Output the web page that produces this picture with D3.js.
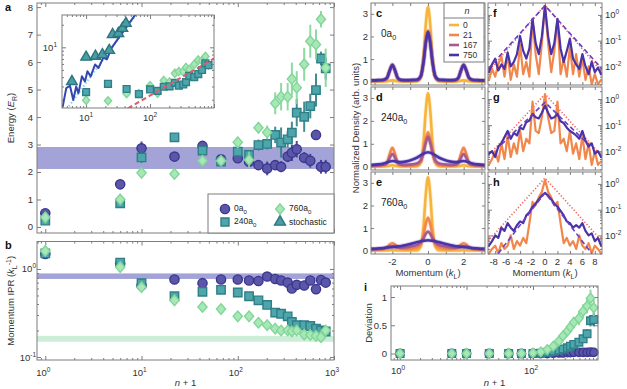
<!DOCTYPE html>
<html>
<head>
<meta charset="utf-8">
<script src="https://cdn.jsdelivr.net/npm/d3@7/dist/d3.min.js"></script>
<style>
  body { margin: 0; background: #fff; }
  svg { font-family: "Liberation Sans", Arial, sans-serif; }
  .tk { font-size: 9.5px; fill: #333; }
  .lab { font-size: 9.5px; fill: #333; }
  .pl { font-size: 11px; font-weight: bold; fill: #111; }
</style>
</head>
<body>
<svg id="fig" width="627" height="389"></svg>
<script>
// ---------- panels a, b, i : values against n + 1
const steps = [1, 6, 10, 22, 43, 67, 100, 131, 164, 202, 245, 282, 330, 365, 410, 490, 567, 650, 733, 820];

const energy0 = [0.50, 1.55, 2.86, 2.56, 2.95, 2.46, 2.50, 2.37, 2.25, 2.13, 2.25, 2.19, 2.56, 2.70, 2.83, 2.52, 2.41, 3.35, 2.19, 2.19];
const energy0Err = [0.05, 0.15, 0.25, 0.1, 0.1, 0.1, 0.1, 0.1, 0.15, 0.25, 0.15, 0.2, 0.2, 0.3, 0.3, 0.2, 0.25, 0.15, 0.25, 0.25];
const energy240 = [0.23, 0.86, 2.53, 3.26, 2.78, 2.38, 2.74, 2.62, 2.98, 3.02, 3.35, 3.07, 3.19, 3.43, 4.16, 4.01, 4.40, 4.98, 6.13, 5.77];
const energy240Err = [0.05, 0.1, 0.2, 0.15, 0.1, 0.1, 0.15, 0.15, 0.2, 0.2, 0.3, 0.55, 0.3, 0.4, 0.5, 0.55, 0.45, 0.6, 0.25, 0.4];
const energy760 = [0.35, 1.00, 1.97, 1.93, 2.41, 2.41, 3.08, 2.44, 3.61, 3.44, 4.50, 4.74, 4.74, 5.38, 5.07, 5.92, 6.76, 6.64, 7.56, 5.79];
const energy760Err = [0.05, 0.1, 0.15, 0.1, 0.1, 0.15, 0.2, 0.3, 0.2, 0.25, 0.4, 0.5, 0.5, 0.6, 0.6, 0.6, 0.6, 0.55, 0.3, 0.7];
const energyBand = [2.11, 2.91];

const ipr0 = [1.48, 1.15, 0.65, 0.76, 0.69, 0.76, 0.76, 0.74, 0.73, 0.82, 0.77, 0.74, 0.70, 0.60, 0.66, 0.65, 0.74, 0.59, 0.75, 0.70];
const ipr240 = [1.5, 1.18, 0.69, 0.49, 0.55, 0.58, 0.54, 0.49, 0.44, 0.39, 0.32, 0.31, 0.29, 0.25, 0.23, 0.23, 0.225, 0.21, 0.20, 0.195];
const ipr760 = [1.6, 1.05, 0.62, 0.44, 0.37, 0.35, 0.29, 0.29, 0.245, 0.23, 0.21, 0.20, 0.20, 0.195, 0.20, 0.18, 0.178, 0.174, 0.168, 0.20];
const iprBand0 = [0.77, 0.89];
const iprBand760 = [0.149, 0.174];

const dev0 = [0, 0, 0, 0, 0, 0, 0, 0, 0, 0.005, 0.01, 0.01, 0.015, 0.015, 0.02, 0.02, 0.02, 0.02, 0.025, 0.02];
const dev240 = [0, 0, 0, 0, 0, 0, 0, 0.005, 0.02, 0.04, 0.06, 0.08, 0.1, 0.13, 0.16, 0.2, 0.26, 0.35, 0.58, 0.6];
const dev240Err = [0, 0, 0, 0, 0, 0, 0, 0.01, 0.01, 0.02, 0.02, 0.03, 0.03, 0.04, 0.04, 0.05, 0.06, 0.08, 0.1, 0.12];
const dev760 = [0, 0, 0, 0, 0, 0, 0.01, 0.03, 0.07, 0.13, 0.22, 0.31, 0.4, 0.47, 0.55, 0.62, 0.75, 0.84, 0.98, 0.81];
const dev760Err = [0, 0, 0, 0, 0, 0, 0.01, 0.02, 0.03, 0.04, 0.05, 0.06, 0.08, 0.1, 0.1, 0.12, 0.12, 0.13, 0.15, 0.15];

// inset of panel a (log-log)
const stochN = [6, 10, 14, 18, 23, 26, 32, 37, 42];
const stochE = [3.5, 7.4, 7.6, 8.0, 9.1, 14.8, 15.3, 17.9, 20.9];
const simN = [4.3, 4.9, 5.6, 6.3, 7.0, 7.6, 8.6, 9.6, 10.5, 11.8, 13.8, 15.6, 18.6, 21.1, 25.2, 34, 46, 60];
const simE = [1.61, 2.85, 3.07, 1.98, 3.0, 2.45, 4.1, 3.5, 4.8, 4.1, 5.9, 5.3, 7.3, 6.9, 9.9, 14.2, 20.4, 27.9];
const diffN = [5, 62];
const diffE = [1.5, 28];
const fitN = [45, 1000];
const fitE = [1.53, 7.1];

// ---------- panels c, d, e : density vs momentum (linear)
const kGrid = [-3.2, -2.8, -2.5, -2.3, -2.15, -2.0, -1.85, -1.7, -1.5, -1.2, -0.9, -0.6, -0.4, -0.25, -0.12, 0,
  0.12, 0.25, 0.4, 0.6, 0.9, 1.2, 1.5, 1.7, 1.85, 2.0, 2.15, 2.3, 2.5, 2.8, 3.2];
const nLabels = ['0', '21', '167', '750'];

const c0 = [0.01, 0.01, 0.01, 0.02, 0.04, 0.06, 0.04, 0.02, 0.01, 0.01, 0.01, 0.02, 0.21, 1.12, 2.57, 3.3, 2.57, 1.12, 0.21, 0.02, 0.01, 0.01, 0.01, 0.02, 0.04, 0.06, 0.04, 0.02, 0.01, 0.01, 0.01];
const c21 = [0.04, 0.04, 0.06, 0.15, 0.5, 0.76, 0.5, 0.15, 0.05, 0.04, 0.04, 0.06, 0.24, 0.9, 1.8, 2.25, 1.8, 0.9, 0.24, 0.06, 0.04, 0.04, 0.05, 0.15, 0.5, 0.76, 0.5, 0.15, 0.06, 0.04, 0.04];
const c167 = [0.05, 0.05, 0.07, 0.16, 0.48, 0.73, 0.48, 0.16, 0.06, 0.05, 0.05, 0.07, 0.25, 0.88, 1.76, 2.2, 1.76, 0.88, 0.25, 0.07, 0.05, 0.05, 0.06, 0.16, 0.48, 0.73, 0.48, 0.16, 0.07, 0.05, 0.05];
const c750 = [0.06, 0.07, 0.09, 0.18, 0.5, 0.74, 0.5, 0.17, 0.08, 0.07, 0.08, 0.1, 0.26, 0.88, 1.75, 2.2, 1.75, 0.88, 0.26, 0.1, 0.08, 0.07, 0.08, 0.17, 0.5, 0.74, 0.5, 0.18, 0.09, 0.07, 0.06];

const d0 = [0.01, 0.01, 0.01, 0.02, 0.04, 0.06, 0.04, 0.02, 0.01, 0.01, 0.01, 0.02, 0.2, 1.09, 2.5, 3.2, 2.5, 1.09, 0.2, 0.02, 0.01, 0.01, 0.01, 0.02, 0.04, 0.06, 0.04, 0.02, 0.01, 0.01, 0.01];
const d21 = [0.03, 0.04, 0.06, 0.18, 0.55, 0.82, 0.55, 0.18, 0.06, 0.05, 0.05, 0.08, 0.2, 0.62, 1.2, 1.5, 1.2, 0.62, 0.2, 0.08, 0.05, 0.05, 0.06, 0.18, 0.55, 0.82, 0.55, 0.18, 0.06, 0.04, 0.03];
const d167 = [0.05, 0.06, 0.08, 0.15, 0.38, 0.55, 0.38, 0.15, 0.09, 0.08, 0.1, 0.15, 0.3, 0.65, 1.05, 1.3, 1.05, 0.65, 0.3, 0.15, 0.1, 0.08, 0.09, 0.15, 0.38, 0.55, 0.38, 0.15, 0.08, 0.06, 0.05];
const d750 = [0.07, 0.1, 0.14, 0.19, 0.23, 0.25, 0.23, 0.21, 0.2, 0.23, 0.3, 0.4, 0.5, 0.57, 0.61, 0.63, 0.61, 0.57, 0.5, 0.4, 0.3, 0.23, 0.2, 0.21, 0.23, 0.25, 0.23, 0.19, 0.14, 0.1, 0.07];

const e0 = [0.01, 0.01, 0.01, 0.01, 0.02, 0.03, 0.02, 0.01, 0.01, 0.01, 0.01, 0.02, 0.2, 1.1, 2.53, 3.25, 2.53, 1.1, 0.2, 0.02, 0.01, 0.01, 0.01, 0.01, 0.02, 0.03, 0.02, 0.01, 0.01, 0.01, 0.01];
const e21 = [0.05, 0.06, 0.08, 0.15, 0.27, 0.33, 0.27, 0.15, 0.09, 0.08, 0.09, 0.14, 0.3, 0.7, 1.2, 1.45, 1.2, 0.7, 0.3, 0.14, 0.09, 0.08, 0.09, 0.15, 0.27, 0.33, 0.27, 0.15, 0.08, 0.06, 0.05];
const e167 = [0.07, 0.08, 0.1, 0.14, 0.18, 0.2, 0.18, 0.14, 0.13, 0.15, 0.2, 0.26, 0.38, 0.55, 0.75, 0.85, 0.75, 0.55, 0.38, 0.26, 0.2, 0.15, 0.13, 0.14, 0.18, 0.2, 0.18, 0.14, 0.1, 0.08, 0.07];
const e750 = [0.08, 0.1, 0.12, 0.14, 0.15, 0.16, 0.17, 0.19, 0.21, 0.26, 0.32, 0.38, 0.42, 0.44, 0.45, 0.46, 0.45, 0.44, 0.42, 0.38, 0.32, 0.26, 0.21, 0.19, 0.17, 0.16, 0.15, 0.14, 0.12, 0.1, 0.08];

// ---------- panels f, g, h : same densities on a log scale
const kLog = [-9, -8.5, -8, -7.5, -7, -6.5, -6, -5.5, -5, -4.5, -4, -3.5, -3, -2.5, -2, -1.5, -1, -0.5, 0,
  0.5, 1, 1.5, 2, 2.5, 3, 3.5, 4, 4.5, 5, 5.5, 6, 6.5, 7, 7.5, 8, 8.5, 9];

const f21 = [0.003, 0.008, 0.004, 0.012, 0.025, 0.004, 0.03, 0.003, 0.012, 0.004, 0.07, 0.005, 0.015, 0.004, 0.65, 0.03, 0.005, 0.08, 2.3, 0.08, 0.006, 0.04, 0.65, 0.005, 0.02, 0.004, 0.06, 0.005, 0.03, 0.004, 0.02, 0.003, 0.01, 0.002, 0.005, 0.002, 0.003];
const f750 = [0.006, 0.012, 0.02, 0.007, 0.012, 0.008, 0.035, 0.01, 0.015, 0.03, 0.15, 0.04, 0.02, 0.05, 0.7, 0.08, 0.03, 0.15, 2.2, 0.15, 0.03, 0.08, 0.7, 0.05, 0.015, 0.04, 0.12, 0.02, 0.012, 0.008, 0.03, 0.01, 0.005, 0.015, 0.006, 0.009, 0.005];
const g21 = [0.003, 0.005, 0.01, 0.004, 0.02, 0.005, 0.04, 0.006, 0.02, 0.008, 0.06, 0.01, 0.03, 0.02, 0.8, 0.06, 0.05, 0.2, 1.5, 0.2, 0.05, 0.06, 0.8, 0.02, 0.03, 0.01, 0.06, 0.008, 0.02, 0.005, 0.04, 0.005, 0.02, 0.003, 0.01, 0.003, 0.004];
const g750 = [0.008, 0.01, 0.006, 0.015, 0.02, 0.035, 0.06, 0.03, 0.05, 0.04, 0.08, 0.07, 0.13, 0.15, 0.27, 0.2, 0.18, 0.3, 0.56, 0.3, 0.18, 0.2, 0.27, 0.14, 0.12, 0.08, 0.06, 0.05, 0.04, 0.03, 0.06, 0.025, 0.015, 0.02, 0.008, 0.01, 0.006];
const h21 = [0.002, 0.003, 0.004, 0.002, 0.005, 0.003, 0.004, 0.01, 0.003, 0.006, 0.004, 0.008, 0.005, 0.03, 0.2, 0.15, 0.3, 0.5, 1.45, 0.5, 0.3, 0.15, 0.2, 0.03, 0.005, 0.008, 0.004, 0.006, 0.003, 0.01, 0.004, 0.003, 0.005, 0.002, 0.004, 0.003, 0.002];
const h750 = [0.004, 0.006, 0.01, 0.008, 0.02, 0.015, 0.03, 0.02, 0.015, 0.025, 0.035, 0.03, 0.06, 0.08, 0.13, 0.17, 0.25, 0.35, 0.45, 0.35, 0.25, 0.17, 0.13, 0.09, 0.06, 0.035, 0.03, 0.02, 0.025, 0.02, 0.03, 0.015, 0.01, 0.012, 0.006, 0.008, 0.004];

// exponential fits (two-sided), red dotted for n = 21, purple dashed for n = 750
const fitRedK = [-9.15, 0, 9.15];
const fitRedF = [0.006, 2.4, 0.006];
const fitRedG = [0.0065, 1.55, 0.0065];
const fitRedH = [0.006, 1.7, 0.006];
const fitBlueKF = [-9.15, 0, 9.15];
const fitBlueF = [0.008, 2.3, 0.008];
const fitBlueKG = [-7, 0, 7];
const fitBlueG = [0.018, 0.75, 0.018];
const fitBlueKH = [-7.5, 0, 7.5];
const fitBlueH = [0.002, 0.45, 0.002];

// ---------- styling
const AX = '#7d7d7d';
const BAND = '#a3a3d8';
const BAND_GREEN = '#cdeed6';
const C_CIRCLE = { fill: '#5b57a8', stroke: '#3b3790' };
const C_SQUARE = { fill: '#4ea6ad', stroke: '#2f7f86' };
const C_DIAMOND = { fill: '#a8e8b6', stroke: '#82d69a' };
const C_TRI = { fill: '#4a9da5', stroke: '#2c757d' };
const nColors = ['#f8b43a', '#f2874c', '#a65b8e', '#4a33a8'];

const svg = d3.select('#fig');

// ---------- helpers
let clipCount = 0;
function clip(x0, y0, x1, y1) {
  const id = 'clip' + (clipCount++);
  svg.append('clipPath').attr('id', id).append('rect')
    .attr('x', x0).attr('y', y0).attr('width', x1 - x0).attr('height', y1 - y0);
  return `url(#${id})`;
}

function frame(x0, y0, x1, y1) {
  svg.append('rect')
    .attr('x', x0).attr('y', y0)
    .attr('width', x1 - x0).attr('height', y1 - y0)
    .attr('fill', 'none').attr('stroke', AX).attr('stroke-width', 1);
}

const makers = { bottom: d3.axisBottom, top: d3.axisTop, left: d3.axisLeft, right: d3.axisRight };

// inward tick marks only, labels are drawn separately
function ticks(scale, side, pos, vals, len) {
  const horiz = side === 'bottom' || side === 'top';
  const g = svg.append('g')
    .attr('transform', horiz ? `translate(0,${pos})` : `translate(${pos},0)`)
    .call(makers[side](scale).tickValues(vals).tickSize(-len).tickFormat(''));
  g.select('.domain').remove();
  g.selectAll('line').attr('stroke', AX);
}

function logVals(scale) {
  const [a, b] = scale.domain();
  const major = [], minor = [];
  for (let e = Math.floor(Math.log10(a)); e <= Math.ceil(Math.log10(b)); e++) {
    for (let m = 1; m <= 9; m++) {
      const v = m * Math.pow(10, e);
      if (v < a || v > b) continue;
      (m === 1 ? major : minor).push(v);
    }
  }
  return { major, minor };
}

function logTicks(scale, side, pos) {
  const { major, minor } = logVals(scale);
  ticks(scale, side, pos, major, 4);
  ticks(scale, side, pos, minor, 2);
}

function text(x, y, str, anchor, cls) {
  return svg.append('text').attr('class', cls || 'tk')
    .attr('x', x).attr('y', y).attr('text-anchor', anchor || 'middle').text(str);
}

function pow10(x, y, exp, anchor) {
  const t = text(x, y, '10', anchor);
  t.append('tspan').attr('dy', -4).style('font-size', '6.5px').text(exp);
}

// "240a0" style label with subscript
function subLabel(x, y, base, sub, size) {
  const t = svg.append('text').attr('x', x).attr('y', y)
    .style('font-size', size + 'px').attr('fill', '#222').text(base);
  t.append('tspan').attr('dy', 2.5).style('font-size', (size * 0.72) + 'px').text(sub);
  return t;
}

const diamond = s => `M0,${-s * 1.15}L${s},0L0,${s * 1.15}L${-s},0Z`;

function symbolPath(kind, size) {
  if (kind === 'diamond') return diamond(size);
  if (kind === 'circle') return d3.symbol().type(d3.symbolCircle).size(Math.PI * size * size)();
  if (kind === 'square') return d3.symbol().type(d3.symbolSquare).size(4 * size * size)();
  return d3.symbol().type(d3.symbolTriangle).size(size * size * 1.9)();
}

function points(xs, ys, x, y, kind, size, col, errs) {
  const g = svg.append('g');
  if (errs) {
    xs.forEach((v, i) => {
      if (!errs[i]) return;
      g.append('line')
        .attr('x1', x(v)).attr('x2', x(v))
        .attr('y1', y(ys[i] - errs[i])).attr('y2', y(ys[i] + errs[i]))
        .attr('stroke', col.stroke).attr('stroke-width', 2).attr('opacity', 0.9);
    });
  }
  const p = symbolPath(kind, size);
  xs.forEach((v, i) => {
    g.append('path')
      .attr('d', p)
      .attr('transform', `translate(${x(v)},${y(ys[i])})`)
      .attr('fill', col.fill).attr('stroke', col.stroke).attr('stroke-width', 1.4);
  });
  return g;
}

function curve(xs, ys, x, y, color, width, clipUrl, dash, smooth, halo) {
  const gen = d3.line().x((d, i) => x(xs[i])).y(d => y(d));
  if (smooth) gen.curve(d3.curveMonotoneX);
  if (halo) {
    svg.append('path').datum(ys).attr('d', gen)
      .attr('fill', 'none').attr('stroke', color).attr('stroke-width', width + 1.8)
      .attr('stroke-opacity', 0.22).attr('stroke-linejoin', 'round').attr('clip-path', clipUrl);
  }
  svg.append('path').datum(ys).attr('d', gen)
    .attr('fill', 'none').attr('stroke', color).attr('stroke-width', width)
    .attr('stroke-linejoin', 'round').attr('stroke-linecap', dash ? 'butt' : 'round')
    .attr('stroke-dasharray', dash || null).attr('clip-path', clipUrl);
}

// ================= panel a
const A = { x0: 37, x1: 334, y0: 3, y1: 233 };
const xA = d3.scaleLog().domain([0.82, 1000]).range([A.x0, A.x1]);
const yA = d3.scaleLinear().domain([-0.22, 8.15]).range([A.y1, A.y0]);

svg.append('rect')
  .attr('x', A.x0).attr('width', A.x1 - A.x0)
  .attr('y', yA(energyBand[1])).attr('height', yA(energyBand[0]) - yA(energyBand[1]))
  .attr('fill', BAND);

logTicks(xA, 'bottom', A.y1);
logTicks(xA, 'top', A.y0);
const eTicks = d3.range(0, 9);
ticks(yA, 'left', A.x0, eTicks, 4);
ticks(yA, 'right', A.x1, eTicks, 4);
eTicks.forEach(v => text(33, yA(v) + 3.5, v, 'end'));

points(steps, energy0, xA, yA, 'circle', 4.6, C_CIRCLE, energy0Err);
points(steps, energy240, xA, yA, 'square', 4.2, C_SQUARE, energy240Err);
points(steps, energy760, xA, yA, 'diamond', 4.6, C_DIAMOND, energy760Err);
frame(A.x0, A.y0, A.x1, A.y1);

// y label
const ea = svg.append('text').attr('class', 'lab').attr('text-anchor', 'middle')
  .attr('transform', `translate(14,${(A.y0 + A.y1) / 2}) rotate(-90)`).text('Energy (');
ea.append('tspan').style('font-style', 'italic').text('E');
ea.append('tspan').attr('dy', 2.5).style('font-size', '7px').text('R');
ea.append('tspan').attr('dy', -2.5).text(')');

// inset
const IN = { x0: 62, x1: 214, y0: 15, y1: 108 };
const xIn = d3.scaleLog().domain([4.2, 1000]).range([IN.x0, IN.x1]);
const yIn = d3.scaleLog().domain([1.55, 27]).range([IN.y1, IN.y0]);
svg.append('rect').attr('x', IN.x0).attr('y', IN.y0)
  .attr('width', IN.x1 - IN.x0).attr('height', IN.y1 - IN.y0).attr('fill', '#fff');
const inClip = clip(IN.x0, IN.y0, IN.x1, IN.y1);
logTicks(xIn, 'bottom', IN.y1);
logTicks(xIn, 'top', IN.y0);
logTicks(yIn, 'left', IN.x0);
logTicks(yIn, 'right', IN.x1);
pow10(86, 121, '1');
pow10(150, 121, '2');
pow10(57, 51, '1', 'end');

const inKeep = steps.map((s, i) => i).filter(i => steps[i] >= 8);
points(inKeep.map(i => steps[i]), inKeep.map(i => energy760[i]), xIn, yIn, 'diamond', 3.6, C_DIAMOND)
  .attr('clip-path', inClip);
points(inKeep.map(i => steps[i]), inKeep.map(i => energy240[i]), xIn, yIn, 'square', 3.4, C_SQUARE)
  .attr('clip-path', inClip);
curve(fitN, fitE, xIn, yIn, '#de5a6c', 2, inClip, '5,3');
curve(diffN, diffE, xIn, yIn, '#93d4ec', 2.2, inClip, '1.5,2');
curve(simN, simE, xIn, yIn, '#3347b0', 2, inClip);
points(stochN, stochE, xIn, yIn, 'triangle', 5, C_TRI).attr('clip-path', inClip);
frame(IN.x0, IN.y0, IN.x1, IN.y1);

// legend of panel a
svg.append('rect').attr('x', 208).attr('y', 194).attr('width', 126).attr('height', 39)
  .attr('fill', '#fff').attr('stroke', AX);
const legA = [
  { kind: 'circle', col: C_CIRCLE, base: '0a', x: 225, y: 209, size: 4.6 },
  { kind: 'square', col: C_SQUARE, base: '240a', x: 225, y: 222, size: 4 },
  { kind: 'diamond', col: C_DIAMOND, base: '760a', x: 280, y: 209, size: 4.4 },
  { kind: 'triangle', col: C_TRI, base: 'stochastic', x: 280, y: 222, size: 5.2 }
];
legA.forEach(d => {
  svg.append('path').attr('d', symbolPath(d.kind, d.size))
    .attr('transform', `translate(${d.x},${d.y})`)
    .attr('fill', d.col.fill).attr('stroke', d.col.stroke).attr('stroke-width', 1.4);
  if (d.base === 'stochastic') {
    svg.append('text').attr('x', d.x + 9).attr('y', d.y + 3).style('font-size', '8.5px').attr('fill', '#222').text(d.base);
  } else {
    subLabel(d.x + 9, d.y + 2, d.base, '0', 8.5);
  }
});

// ================= panel b
const B = { x0: 37, x1: 334, y0: 241.5, y1: 360 };
const yB = d3.scaleLog().domain([0.0925, 2.05]).range([B.y1, B.y0]);
const xB = xA.copy();

[[iprBand0, BAND], [iprBand760, BAND_GREEN]].forEach(([band, col]) => {
  svg.append('rect')
    .attr('x', B.x0).attr('width', B.x1 - B.x0)
    .attr('y', yB(band[1])).attr('height', yB(band[0]) - yB(band[1]))
    .attr('fill', col);
});
logTicks(xB, 'bottom', B.y1);
logTicks(xB, 'top', B.y0);
logTicks(yB, 'left', B.x0);
logTicks(yB, 'right', B.x1);
[1, 10, 100, 1000].forEach((v, i) => pow10(xB(v) - 2, 376, String(i)));
pow10(36, yB(1) + 3.5, '0', 'end');
pow10(36, yB(0.1) + 3.5, '-1', 'end');

points(steps, ipr0, xB, yB, 'circle', 4.6, C_CIRCLE);
points(steps, ipr240, xB, yB, 'square', 4.2, C_SQUARE);
points(steps, ipr760, xB, yB, 'diamond', 4.6, C_DIAMOND);
frame(B.x0, B.y0, B.x1, B.y1);

const ib = svg.append('text').attr('class', 'lab').attr('text-anchor', 'middle')
  .attr('transform', `translate(14,${(B.y0 + B.y1) / 2}) rotate(-90)`).text('Momentum IPR (');
ib.append('tspan').style('font-style', 'italic').text('k');
ib.append('tspan').attr('dy', 2.5).style('font-size', '7px').text('L');
ib.append('tspan').attr('dy', -6).style('font-size', '7px').text('-1');
ib.append('tspan').attr('dy', 3.5).text(')');

const nb = svg.append('text').attr('class', 'lab').attr('text-anchor', 'middle')
  .attr('x', (B.x0 + B.x1) / 2).attr('y', 386);
nb.append('tspan').style('font-style', 'italic').text('n');
nb.append('tspan').text(' + 1');

// ================= panels c, d, e
const xK = d3.scaleLinear().domain([-3.2, 3.2]).range([371, 485]);
const rows = [{ y0: 3, y1: 85 }, { y0: 87, y1: 170 }, { y0: 172, y1: 254 }];
const linSets = [[c0, c21, c167, c750], [d0, d21, d167, d750], [e0, e21, e167, e750]];
const linNames = [['0a', 'c'], ['240a', 'd'], ['760a', 'e']];

rows.forEach((r, ri) => {
  const y = d3.scaleLinear().domain([-0.146, 3.48]).range([r.y1, r.y0]);
  const cl = clip(371, r.y0, 485, r.y1);
  ticks(xK, 'bottom', r.y1, d3.range(-3, 4), 3);
  ticks(xK, 'top', r.y0, d3.range(-3, 4), 3);
  ticks(y, 'left', 371, [0, 1, 2, 3], 3);
  ticks(y, 'right', 485, [0, 1, 2, 3], 3);
  [0, 1, 2, 3].forEach(v => text(368, y(v) + 3.5, v, 'end'));
  linSets[ri].forEach((vals, si) => curve(kGrid, vals, xK, y, nColors[si], 2.6, cl, null, true, true));
  frame(371, r.y0, 485, r.y1);
  text(376, r.y0 + 14, linNames[ri][1], 'start', 'pl');
  subLabel(381, r.y0 + 34, linNames[ri][0], '0', 10);
});
[-2, 0, 2].forEach(v => text(xK(v), 265, v));
const mk1 = text(428, 276, 'Momentum (', 'middle', 'lab');
mk1.append('tspan').style('font-style', 'italic').text('k');
mk1.append('tspan').attr('dy', 2.5).style('font-size', '7px').text('L');
mk1.append('tspan').attr('dy', -2.5).text(')');

svg.append('text').attr('class', 'lab').attr('text-anchor', 'middle')
  .attr('transform', `translate(359,128) rotate(-90)`).text('Normalized Density (arb. units)');

// legend of panel c
svg.append('rect').attr('x', 444).attr('y', 3).attr('width', 40).attr('height', 59)
  .attr('fill', '#fff').attr('stroke', AX);
svg.append('line').attr('x1', 444).attr('x2', 484).attr('y1', 18).attr('y2', 18).attr('stroke', AX);
text(467, 14, 'n', 'middle').style('font-style', 'italic').style('font-size', '9px');
nLabels.forEach((lab, i) => {
  const yy = 25 + i * 10;
  svg.append('line').attr('x1', 449).attr('x2', 459).attr('y1', yy).attr('y2', yy)
    .attr('stroke', nColors[i]).attr('stroke-width', 2.6);
  text(463, yy + 3, lab, 'start').style('font-size', '8.5px');
});

// ================= panels f, g, h
const xL = d3.scaleLinear().domain([-9.15, 9.15]).range([488, 602]);
const logSets = [[f21, f750], [g21, g750], [h21, h750]];
const fitRed = [fitRedF, fitRedG, fitRedH];
const fitBlue = [[fitBlueKF, fitBlueF], [fitBlueKG, fitBlueG], [fitBlueKH, fitBlueH]];
const logNames = ['f', 'g', 'h'];

rows.forEach((r, ri) => {
  const y = d3.scaleLog().domain([0.0019, 2.9]).range([r.y1, r.y0]);
  const cl = clip(488, r.y0, 602, r.y1);
  ticks(xL, 'bottom', r.y1, d3.range(-8, 9, 2), 3);
  ticks(xL, 'top', r.y0, d3.range(-8, 9, 2), 3);
  logTicks(y, 'left', 488);
  logTicks(y, 'right', 602);
  pow10(605, y(1) + 3.5, '0', 'start');
  pow10(605, y(0.1) + 3.5, '-1', 'start');
  pow10(605, y(0.01) + 3.5, '-2', 'start');
  curve(fitRedK, fitRed[ri], xL, y, '#f2605a', 1.6, cl, '1.2,2');
  curve(kLog, logSets[ri][0], xL, y, nColors[1], 2.2, cl);
  curve(kLog, logSets[ri][1], xL, y, nColors[3], 2.2, cl);
  curve(fitBlue[ri][0], fitBlue[ri][1], xL, y, '#6a3ec4', 1.6, cl, '5,3');
  frame(488, r.y0, 602, r.y1);
  text(493, r.y0 + 14, logNames[ri], 'start', 'pl');
});
d3.range(-8, 9, 2).forEach(v => text(xL(v) - (v < 0 ? 1.5 : 0), 265, v));
const mk2 = text(545, 276, 'Momentum (', 'middle', 'lab');
mk2.append('tspan').style('font-style', 'italic').text('k');
mk2.append('tspan').attr('dy', 2.5).style('font-size', '7px').text('L');
mk2.append('tspan').attr('dy', -2.5).text(')');

// ================= panel i
const I = { x0: 391, x1: 598, y0: 286, y1: 360 };
const xI = d3.scaleLog().domain([0.73, 950]).range([I.x0, I.x1]);
const yI = d3.scaleLinear().domain([-0.115, 1.195]).range([I.y1, I.y0]);
logTicks(xI, 'bottom', I.y1);
logTicks(xI, 'top', I.y0);
ticks(yI, 'left', I.x0, [0, 0.5, 1], 4);
ticks(yI, 'right', I.x1, [0, 0.5, 1], 4);
[0, 0.5, 1].forEach(v => text(387, yI(v) + 3.5, v, 'end'));
pow10(xI(1) - 2, 374, '0');
pow10(xI(100) - 2, 374, '2');

points(steps, dev0, xI, yI, 'circle', 4.2, C_CIRCLE);
points(steps, dev240, xI, yI, 'square', 3.8, C_SQUARE, dev240Err);
points(steps, dev760, xI, yI, 'diamond', 4.2, C_DIAMOND, dev760Err);
frame(I.x0, I.y0, I.x1, I.y1);

svg.append('text').attr('class', 'lab').attr('text-anchor', 'middle')
  .attr('transform', `translate(372,${(I.y0 + I.y1) / 2}) rotate(-90)`).text('Deviation');
const ni = svg.append('text').attr('class', 'lab').attr('text-anchor', 'middle')
  .attr('x', (I.x0 + I.x1) / 2).attr('y', 386);
ni.append('tspan').style('font-style', 'italic').text('n');
ni.append('tspan').text(' + 1');

// panel letters a, b, i
text(5, 11, 'a', 'start', 'pl');
text(5, 249, 'b', 'start', 'pl');
text(364, 291, 'i', 'start', 'pl');
</script>
</body>
</html>
